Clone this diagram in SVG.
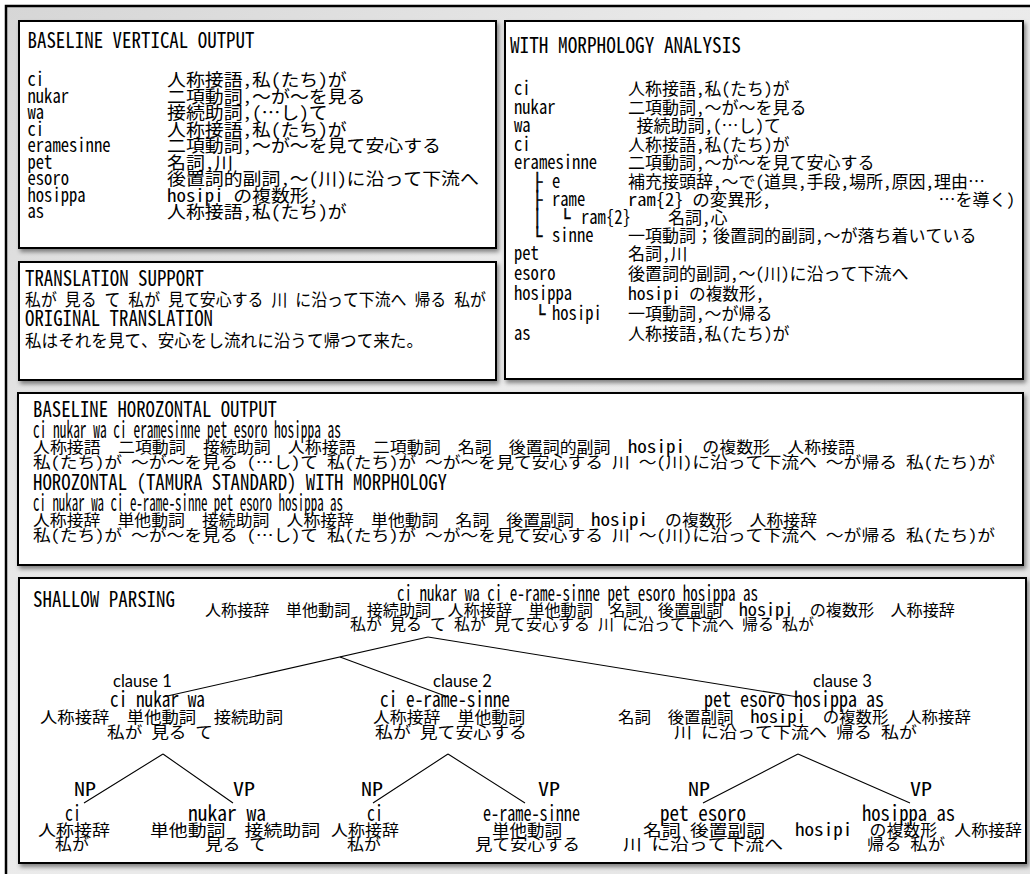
<svg xmlns="http://www.w3.org/2000/svg" width="1030" height="874" viewBox="0 0 1030 874">
<defs>
<linearGradient id="bg" x1="0" y1="0" x2="1" y2="1">
<stop offset="0" stop-color="#d6d6d6"/><stop offset="0.4" stop-color="#ececec"/><stop offset="1" stop-color="#e4e4e4"/>
</linearGradient>
<filter id="sh" x="-3%" y="-5%" width="106%" height="115%">
<feDropShadow dx="2" dy="3" stdDeviation="2" flood-color="#000" flood-opacity="0.45"/>
</filter>
<style>
text{font-family:'Noto Sans Mono CJK JP','Noto Sans CJK JP',monospace;fill:#000}
.l{font-size:19.5px}
.la{font-size:21px}
.lb{font-size:23px}
.lt{font-size:17.5px}
.np{font-size:18px}
.j1{font-size:17.5px}
.j2{font-size:16.6px}
.j{font-size:15.5px}
.ws{word-spacing:8px}
.h{font-size:21px;font-weight:500}
.bd{font-family:'DejaVu Sans Mono',monospace;font-size:17px;stroke:#000;stroke-width:0.4}
.cl{font-family:Lato,'Open Sans',sans-serif;font-size:16.5px}
.bx{fill:#fff;stroke:#000;stroke-width:2}
.ln{stroke:#000;stroke-width:1.1;fill:none}
</style>
</defs>
<rect x="6" y="6" width="1030" height="880" fill="url(#bg)" stroke="#000" stroke-width="2.5"/>

<g id="baseline-vertical">
<rect class="bx" x="19" y="21" width="477" height="227" filter="url(#sh)"/>
<text class="h" x="27.5" y="48" textLength="227" lengthAdjust="spacingAndGlyphs">BASELINE VERTICAL OUTPUT</text>
<text class="l" x="27.5" y="86" textLength="16.6" lengthAdjust="spacingAndGlyphs">ci</text>
<text class="l" x="27.5" y="102.5" textLength="41.5" lengthAdjust="spacingAndGlyphs">nukar</text>
<text class="l" x="27.5" y="119" textLength="16.6" lengthAdjust="spacingAndGlyphs">wa</text>
<text class="l" x="27.5" y="135.5" textLength="16.6" lengthAdjust="spacingAndGlyphs">ci</text>
<text class="l" x="27.5" y="152" textLength="83" lengthAdjust="spacingAndGlyphs">eramesinne</text>
<text class="l" x="27.5" y="168.5" textLength="24.9" lengthAdjust="spacingAndGlyphs">pet</text>
<text class="l" x="27.5" y="185" textLength="41.5" lengthAdjust="spacingAndGlyphs">esoro</text>
<text class="l" x="27.5" y="201.5" textLength="58.1" lengthAdjust="spacingAndGlyphs">hosippa</text>
<text class="l" x="27.5" y="218" textLength="16.6" lengthAdjust="spacingAndGlyphs">as</text>
<text class="j1" x="167" y="86" textLength="179.6" lengthAdjust="spacingAndGlyphs">人称接語,私(たち)が</text>
<text class="j1" x="167" y="102.5" textLength="198.5" lengthAdjust="spacingAndGlyphs">二項動詞,～が～を見る</text>
<text class="j1" x="167" y="119" textLength="160.7" lengthAdjust="spacingAndGlyphs">接続助詞,(…し)て</text>
<text class="j1" x="167" y="135.5" textLength="179.6" lengthAdjust="spacingAndGlyphs">人称接語,私(たち)が</text>
<text class="j1" x="167" y="152" textLength="274" lengthAdjust="spacingAndGlyphs">二項動詞,～が～を見て安心する</text>
<text class="j1" x="167" y="168.5" textLength="66.2" lengthAdjust="spacingAndGlyphs">名詞,川</text>
<text class="j1" x="167" y="185" textLength="311.9" lengthAdjust="spacingAndGlyphs">後置詞的副詞,～(川)に沿って下流へ</text>
<text class="j1" x="167" y="201.5" textLength="151.2" lengthAdjust="spacingAndGlyphs"><tspan class="lt">hosipi</tspan> の複数形,</text>
<text class="j1" x="167" y="218" textLength="179.6" lengthAdjust="spacingAndGlyphs">人称接語,私(たち)が</text>
</g>

<g id="morphology-analysis">
<rect class="bx" x="505" y="21" width="518" height="358" filter="url(#sh)"/>
<text class="h" x="510" y="53" textLength="231" lengthAdjust="spacingAndGlyphs">WITH MORPHOLOGY ANALYSIS</text>
<text class="l" x="514" y="95" textLength="16.6" lengthAdjust="spacingAndGlyphs">ci</text>
<text class="l" x="514" y="113.5" textLength="41.5" lengthAdjust="spacingAndGlyphs">nukar</text>
<text class="l" x="514" y="132" textLength="16.6" lengthAdjust="spacingAndGlyphs">wa</text>
<text class="l" x="514" y="150.5" textLength="16.6" lengthAdjust="spacingAndGlyphs">ci</text>
<text class="l" x="514" y="169" textLength="83" lengthAdjust="spacingAndGlyphs">eramesinne</text>
<text class="bd" x="531.9" y="187.5">├</text>
<text class="l" x="552" y="187.5" textLength="8.3" lengthAdjust="spacingAndGlyphs">e</text>
<text class="bd" x="531.9" y="205.5">├</text>
<text class="l" x="552" y="205.5" textLength="33.2" lengthAdjust="spacingAndGlyphs">rame</text>
<text class="bd" x="531.9" y="223.5">│</text>
<text class="bd" x="559.9" y="223.5">└</text>
<text class="l" x="581" y="223.5" textLength="49.8" lengthAdjust="spacingAndGlyphs">ram{2}</text>
<text class="bd" x="531.9" y="241.5">└</text>
<text class="l" x="552" y="241.5" textLength="41.5" lengthAdjust="spacingAndGlyphs">sinne</text>
<text class="l" x="514" y="260" textLength="24.9" lengthAdjust="spacingAndGlyphs">pet</text>
<text class="l" x="514" y="280" textLength="41.5" lengthAdjust="spacingAndGlyphs">esoro</text>
<text class="l" x="514" y="300" textLength="58.1" lengthAdjust="spacingAndGlyphs">hosippa</text>
<text class="bd" x="534.9" y="320">└</text>
<text class="l" x="552" y="320" textLength="49.8" lengthAdjust="spacingAndGlyphs">hosipi</text>
<text class="l" x="514" y="340" textLength="16.6" lengthAdjust="spacingAndGlyphs">as</text>
<text class="j2" x="628" y="95" textLength="161.5" lengthAdjust="spacingAndGlyphs">人称接語,私(たち)が</text>
<text class="j2" x="628" y="113.5" textLength="178.5" lengthAdjust="spacingAndGlyphs">二項動詞,～が～を見る</text>
<text class="j2" x="636.5" y="132" textLength="144.5" lengthAdjust="spacingAndGlyphs">接続助詞,(…し)て</text>
<text class="j2" x="628" y="150.5" textLength="161.5" lengthAdjust="spacingAndGlyphs">人称接語,私(たち)が</text>
<text class="j2" x="628" y="169" textLength="246.5" lengthAdjust="spacingAndGlyphs">二項動詞,～が～を見て安心する</text>
<text class="j2" x="628" y="187.5" textLength="357" lengthAdjust="spacingAndGlyphs">補充接頭辞,～で(道具,手段,場所,原因,理由…</text>
<text class="j2" x="628" y="205.5" textLength="143" lengthAdjust="spacingAndGlyphs"><tspan class="lt">ram{2}</tspan> の変異形,</text>
<text class="j2" x="938.5" y="205.5" textLength="76.5" lengthAdjust="spacingAndGlyphs">…を導く)</text>
<text class="j2" x="668" y="223.5" textLength="59.5" lengthAdjust="spacingAndGlyphs">名詞,心</text>
<text class="j2" x="628" y="241.5" textLength="348.5" lengthAdjust="spacingAndGlyphs">一項動詞；後置詞的副詞,～が落ち着いている</text>
<text class="j2" x="628" y="260" textLength="59.5" lengthAdjust="spacingAndGlyphs">名詞,川</text>
<text class="j2" x="628" y="280" textLength="280.5" lengthAdjust="spacingAndGlyphs">後置詞的副詞,～(川)に沿って下流へ</text>
<text class="j2" x="628" y="300" textLength="136" lengthAdjust="spacingAndGlyphs"><tspan class="lt">hosipi</tspan> の複数形,</text>
<text class="j2" x="628" y="320" textLength="144.5" lengthAdjust="spacingAndGlyphs">一項動詞,～が帰る</text>
<text class="j2" x="628" y="340" textLength="161.5" lengthAdjust="spacingAndGlyphs">人称接語,私(たち)が</text>
</g>

<g id="translation">
<rect class="bx" x="19" y="262" width="477" height="118" filter="url(#sh)"/>
<text class="h" x="25" y="286" textLength="179" lengthAdjust="spacingAndGlyphs">TRANSLATION SUPPORT</text>
<text class="j1" x="25" y="306" textLength="461" lengthAdjust="spacingAndGlyphs">私が 見る て 私が 見て安心する 川 に沿って下流へ 帰る 私が</text>
<text class="h" x="25" y="326" textLength="188" lengthAdjust="spacingAndGlyphs">ORIGINAL TRANSLATION</text>
<text class="j1" x="25" y="347" textLength="398" lengthAdjust="spacingAndGlyphs">私はそれを見て、安心をし流れに沿うて帰つて来た。</text>
</g>

<g id="horizontal-output">
<rect class="bx" x="18" y="393" width="1005" height="172" filter="url(#sh)"/>
<text class="h" x="33" y="417" textLength="244" lengthAdjust="spacingAndGlyphs">BASELINE HOROZONTAL OUTPUT</text>
<text class="lb" x="33" y="438" textLength="308" lengthAdjust="spacingAndGlyphs">ci nukar wa ci eramesinne pet esoro hosippa as</text>
<text class="j ws" x="33" y="453" textLength="822" lengthAdjust="spacingAndGlyphs">人称接語 二項動詞 接続助詞 人称接語 二項動詞 名詞 後置詞的副詞 <tspan class="lt">hosipi</tspan> の複数形 人称接語</text>
<text class="j" x="33" y="468" textLength="962" lengthAdjust="spacingAndGlyphs">私(たち)が ～が～を見る (…し)て 私(たち)が ～が～を見て安心する 川 ～(川)に沿って下流へ ～が帰る 私(たち)が</text>
<text class="h" x="33" y="490" textLength="414" lengthAdjust="spacingAndGlyphs">HOROZONTAL (TAMURA STANDARD) WITH MORPHOLOGY</text>
<text class="lb" x="33" y="511" textLength="310" lengthAdjust="spacingAndGlyphs">ci nukar wa ci e-rame-sinne pet esoro hosippa as</text>
<text class="j ws" x="33" y="526" textLength="784" lengthAdjust="spacingAndGlyphs">人称接辞 単他動詞 接続助詞 人称接辞 単他動詞 名詞 後置副詞 <tspan class="lt">hosipi</tspan> の複数形 人称接辞</text>
<text class="j" x="33" y="541" textLength="962" lengthAdjust="spacingAndGlyphs">私(たち)が ～が～を見る (…し)て 私(たち)が ～が～を見て安心する 川 ～(川)に沿って下流へ ～が帰る 私(たち)が</text>
</g>

<g id="shallow-parsing">
<rect class="bx" x="19" y="578" width="1007" height="285" filter="url(#sh)"/>
<text class="h" x="33" y="607" textLength="142" lengthAdjust="spacingAndGlyphs">SHALLOW PARSING</text>
</g>

<g id="connectors">
<path class="ln" d="M428,637 L163,697"/>
<path class="ln" d="M340,657 L448,697"/>
<path class="ln" d="M428,637 L798,697"/>
<path class="ln" d="M163,754 L84,803 M163,754 L233,803"/>
<path class="ln" d="M448,754 L373,803 M448,754 L525,803"/>
<path class="ln" d="M798,754 L703,803 M798,754 L910,803"/>
</g>

<g id="node-sentence">
<text class="la" x="397" y="601" textLength="361" lengthAdjust="spacingAndGlyphs">ci nukar wa ci e-rame-sinne pet esoro hosippa as</text>
<text class="j ws" x="205" y="616" textLength="750" lengthAdjust="spacingAndGlyphs">人称接辞 単他動詞 接続助詞 人称接辞 単他動詞 名詞 後置副詞 <tspan class="lt">hosipi</tspan> の複数形 人称接辞</text>
<text class="j" x="350" y="630" textLength="464" lengthAdjust="spacingAndGlyphs">私が 見る て 私が 見て安心する 川 に沿って下流へ 帰る 私が</text>
</g>

<g id="node-clause1">
<text class="cl" x="113" y="687">clause 1</text>
<text class="la" x="110" y="707" textLength="95" lengthAdjust="spacingAndGlyphs">ci nukar wa</text>
<text class="j ws" x="40" y="723" textLength="243" lengthAdjust="spacingAndGlyphs">人称接辞 単他動詞 接続助詞</text>
<text class="j" x="107" y="738" textLength="106" lengthAdjust="spacingAndGlyphs">私が 見る て</text>
</g>
<g id="node-clause2">
<text class="cl" x="433" y="687">clause 2</text>
<text class="la" x="380" y="707" textLength="130" lengthAdjust="spacingAndGlyphs">ci e-rame-sinne</text>
<text class="j ws" x="373" y="723" textLength="152" lengthAdjust="spacingAndGlyphs">人称接辞 単他動詞</text>
<text class="j" x="375" y="738" textLength="152" lengthAdjust="spacingAndGlyphs">私が 見て安心する</text>
</g>
<g id="node-clause3">
<text class="cl" x="813" y="687">clause 3</text>
<text class="la" x="704" y="707" textLength="180" lengthAdjust="spacingAndGlyphs">pet esoro hosippa as</text>
<text class="j ws" x="618" y="723" textLength="353" lengthAdjust="spacingAndGlyphs">名詞 後置副詞 <tspan class="lt">hosipi</tspan> の複数形 人称接辞</text>
<text class="j" x="674" y="738" textLength="243" lengthAdjust="spacingAndGlyphs">川 に沿って下流へ 帰る 私が</text>
</g>

<g id="node-c1-np">
<text class="np" x="74" y="796" textLength="22" lengthAdjust="spacingAndGlyphs">NP</text>
<text class="la" x="65" y="821" textLength="16" lengthAdjust="spacingAndGlyphs">ci</text>
<text class="j" x="38" y="836" textLength="72" lengthAdjust="spacingAndGlyphs">人称接辞</text>
<text class="j" x="55" y="850" textLength="34" lengthAdjust="spacingAndGlyphs">私が</text>
</g>
<g id="node-c1-vp">
<text class="np" x="233" y="796" textLength="22" lengthAdjust="spacingAndGlyphs">VP</text>
<text class="la" x="188" y="821" textLength="78" lengthAdjust="spacingAndGlyphs">nukar wa</text>
<text class="j ws" x="150" y="836" textLength="170" lengthAdjust="spacingAndGlyphs">単他動詞 接続助詞</text>
<text class="j" x="205" y="850" textLength="62" lengthAdjust="spacingAndGlyphs">見る て</text>
</g>
<g id="node-c2-np">
<text class="np" x="361" y="796" textLength="22" lengthAdjust="spacingAndGlyphs">NP</text>
<text class="la" x="367" y="821" textLength="16" lengthAdjust="spacingAndGlyphs">ci</text>
<text class="j" x="331" y="836" textLength="68" lengthAdjust="spacingAndGlyphs">人称接辞</text>
<text class="j" x="347" y="850" textLength="34" lengthAdjust="spacingAndGlyphs">私が</text>
</g>
<g id="node-c2-vp">
<text class="np" x="538" y="796" textLength="22" lengthAdjust="spacingAndGlyphs">VP</text>
<text class="la" x="483" y="821" textLength="97" lengthAdjust="spacingAndGlyphs">e-rame-sinne</text>
<text class="j" x="492" y="836" textLength="70" lengthAdjust="spacingAndGlyphs">単他動詞</text>
<text class="j" x="475" y="850" textLength="105" lengthAdjust="spacingAndGlyphs">見て安心する</text>
</g>
<g id="node-c3-np">
<text class="np" x="688" y="796" textLength="22" lengthAdjust="spacingAndGlyphs">NP</text>
<text class="la" x="660" y="821" textLength="86" lengthAdjust="spacingAndGlyphs">pet esoro</text>
<text class="j" x="643" y="836" textLength="122" lengthAdjust="spacingAndGlyphs">名詞 後置副詞</text>
<text class="j" x="623" y="850" textLength="160" lengthAdjust="spacingAndGlyphs">川 に沿って下流へ</text>
</g>
<g id="node-c3-vp">
<text class="np" x="910" y="796" textLength="22" lengthAdjust="spacingAndGlyphs">VP</text>
<text class="la" x="862" y="821" textLength="93" lengthAdjust="spacingAndGlyphs">hosippa as</text>
<text class="j ws" x="795" y="836" textLength="227" lengthAdjust="spacingAndGlyphs"><tspan class="lt">hosipi</tspan> の複数形 人称接辞</text>
<text class="j" x="867" y="850" textLength="78" lengthAdjust="spacingAndGlyphs">帰る 私が</text>
</g>
</svg>
